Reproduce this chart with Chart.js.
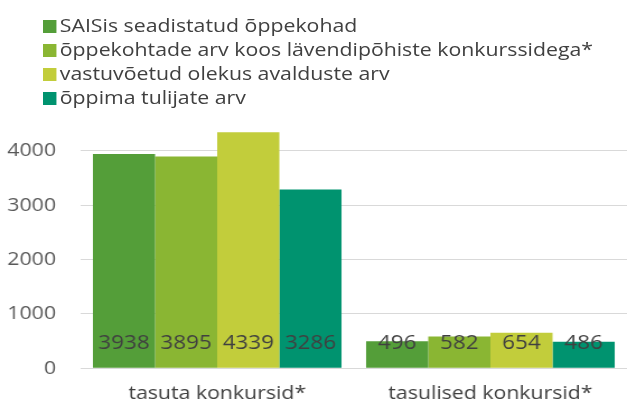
<!DOCTYPE html>
<html>
<head>
<meta charset="utf-8">
<script src="https://cdn.jsdelivr.net/npm/chart.js@4"></script>
<style>
  body { margin: 0; background: #fff; }
  #wrap { position: relative; width: 627px; height: 412px; overflow: hidden; }
  #chart { width: 627px; height: 412px; }
  #legend { position: absolute; left: 43px; top: 13px; font-family: "Open Sans", sans-serif; font-size: 19px; color: #404040;
            transform: scaleX(1.12); transform-origin: 0 0; }
  #legend div { height: 24px; line-height: 24px; white-space: nowrap; }
  #legend span { display: inline-block; width: 12px; height: 13px; margin-right: 3px; vertical-align: -1px; }
</style>
</head>
<body>
<div id="wrap">
  <!-- originaalis on tekst veidi laiaks venitatud, seepärast kitsam lõuend -->
  <canvas id="chart" width="560" height="412" style="width:627px;height:412px"></canvas>
  <div id="legend"></div>
</div>
<script>
// kategooriad ja seeriad
const categories = ['tasuta konkursid*', 'tasulised konkursid*'];
const seriesNames = [
  'SAISis seadistatud õppekohad',
  'õppekohtade arv koos lävendipõhiste konkurssidega*',
  'vastuvõetud olekus avalduste arv',
  'õppima tulijate arv'
];
const saisKohad = [3938, 496];
const lavendKohad = [3895, 582];
const vastuvoetud = [4339, 654];
const oppimaTulijad = [3286, 486];
const yTicks = [0, 1000, 2000, 3000, 4000];

const colors = ['#549e39', '#8ab633', '#c2cd3b', '#00936f'];
const seriesData = [saisKohad, lavendKohad, vastuvoetud, oppimaTulijad];

const FONT = '"Open Sans", sans-serif';

// väärtused tulba alumisse ossa
const valueLabels = {
  id: 'valueLabels',
  afterDatasetsDraw(chart) {
    const ctx = chart.ctx;
    const y = chart.scales.y.getPixelForValue(0) - 25;
    ctx.save();
    ctx.font = '20px ' + FONT;
    ctx.fillStyle = '#404040';
    ctx.textAlign = 'center';
    ctx.textBaseline = 'middle';
    chart.data.datasets.forEach((ds, i) => {
      chart.getDatasetMeta(i).data.forEach((bar, j) => {
        ctx.fillText(String(ds.data[j]), bar.x, y);
      });
    });
    ctx.restore();
  }
};

const chart = new Chart(document.getElementById('chart'), {
  type: 'bar',
  data: {
    labels: categories,
    datasets: seriesData.map((d, i) => ({
      label: seriesNames[i],
      data: d,
      backgroundColor: colors[i],
      barPercentage: 1,
      categoryPercentage: 0.91
    }))
  },
  options: {
    responsive: false,
    animation: false,
    devicePixelRatio: 1,
    layout: { padding: { top: 129, right: 0, bottom: -7, left: 0 } },
    plugins: {
      legend: { display: false },
      tooltip: { enabled: false }
    },
    scales: {
      x: {
        grid: { display: false, drawTicks: false },
        border: { display: true, color: '#d9d9d9' },
        ticks: { font: { family: FONT, size: 19 }, color: '#404040', padding: 14 }
      },
      y: {
        min: 0,
        max: 4400,
        afterFit: (scale) => { scale.width = 72; },
        afterBuildTicks: (scale) => { scale.ticks = yTicks.map(v => ({ value: v })); },
        grid: { color: '#d9d9d9', drawTicks: false },
        border: { display: false },
        ticks: { font: { family: FONT, size: 19 }, color: '#595959', padding: 22, callback: (v) => String(v) }
      }
    }
  },
  plugins: [valueLabels]
});

// legend
const legend = document.getElementById('legend');
seriesNames.forEach((name, i) => {
  const row = document.createElement('div');
  row.innerHTML = '<span style="background:' + colors[i] + '"></span>' + name;
  legend.appendChild(row);
});
</script>
</body>
</html>
